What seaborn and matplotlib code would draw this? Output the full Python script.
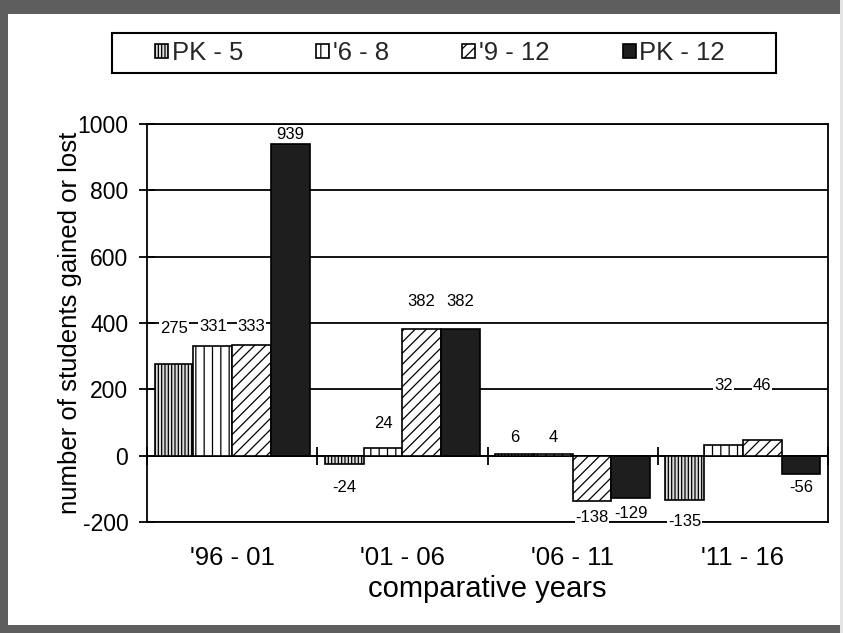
import matplotlib
matplotlib.use("Agg")
import matplotlib.pyplot as plt
from matplotlib.patches import Rectangle
import seaborn as sns
import pandas as pd

# enrollment change per grade band over each five-year span
periods = ["'96 - 01", "'01 - 06", "'06 - 11", "'11 - 16"]
grades = ["PK - 5", "'6 - 8", "'9 - 12", "PK - 12"]
pk5 = [275, -24, 6, -135]
g68 = [331, 24, 4, 32]
g912 = [333, 382, -138, 46]
pk12 = [939, 382, -129, -56]
yticks = [-200, 0, 200, 400, 600, 800, 1000]

# vertical placement of each value label (data units)
label_pos = {
    "PK - 5": [382, -95, 56, -197],
    "'6 - 8": [388, 98, 56, 213],
    "'9 - 12": [388, 464, -185, 213],
    "PK - 12": [968, 464, -173, -95],
}

# fill / hatch per grade band
looks = {
    "PK - 5": dict(face="#dcdcdc", hatch="|||||"),
    "'6 - 8": dict(face="white", hatch="||"),
    "'9 - 12": dict(face="white", hatch="///"),
    "PK - 12": dict(face="#1e1e1e", hatch=None),
}

series = {"PK - 5": pk5, "'6 - 8": g68, "'9 - 12": g912, "PK - 12": pk12}
df = pd.DataFrame(
    [(p, g, series[g][i]) for g in grades for i, p in enumerate(periods)],
    columns=["period", "grade", "value"],
)

sns.set_theme(style="white")
plt.rcParams["font.family"] = ["Liberation Sans", "DejaVu Sans"]
plt.rcParams["hatch.linewidth"] = 0.9
plt.rcParams["axes.unicode_minus"] = False

W, H = 843, 633
fig = plt.figure(figsize=(W / 100, H / 100), dpi=100)
fig.patch.set_facecolor("#5e5e5e")
# white sheet inside the grey frame
fig.patches.append(Rectangle((8 / W, 8 / H), 832 / W, 611 / H,
                             transform=fig.transFigure, facecolor="white",
                             edgecolor="none", zorder=-5))
fig.patches.append(Rectangle((840 / W, 0), 3 / W, 1,
                             transform=fig.transFigure, facecolor="#e4e4e4",
                             edgecolor="none", zorder=-5))
# legend box outline
fig.patches.append(Rectangle((112 / W, 1 - 73 / H), 664 / W, 40 / H,
                             transform=fig.transFigure, facecolor="none",
                             edgecolor="black", linewidth=1.5, zorder=3))

ax = fig.add_axes([147 / W, 1 - 522 / H, 681 / W, 398 / H])
ax.set_facecolor("white")

palette = {g: looks[g]["face"] for g in grades}
sns.barplot(data=df, x="period", y="value", hue="grade", order=periods,
            hue_order=grades, palette=palette, width=0.91, gap=0,
            saturation=1, edgecolor="black", linewidth=1.2, legend=False,
            ax=ax)

for g, cont in zip(grades, ax.containers):
    for bar in cont.patches:
        bar.set_facecolor(looks[g]["face"])
        bar.set_edgecolor("black")
        if looks[g]["hatch"]:
            bar.set_hatch(looks[g]["hatch"])
    for bar, val, ly in zip(cont.patches, series[g], label_pos[g]):
        cx = bar.get_x() + bar.get_width() / 2
        ax.text(cx, ly, f"{val}", ha="center", va="center", fontsize=12,
                color="black", zorder=6,
                bbox=dict(facecolor="white", edgecolor="none", pad=0.6))

ax.set_xlim(-0.5, 3.5)
ax.set_ylim(-200, 1000)
ax.set_yticks(yticks)
ax.yaxis.grid(True, color="black", linewidth=1.3)
ax.set_axisbelow(True)
for s in ax.spines.values():
    s.set_visible(True)
    s.set_color("black")
    s.set_linewidth(1.3)

ax.tick_params(axis="y", direction="inout", length=12, width=1.3,
               labelsize=16.5, pad=7.5, left=True, colors="black")
ax.tick_params(axis="x", length=0, labelsize=18.5, pad=17, colors="black")
ax.set_xlabel("comparative years", fontsize=21, labelpad=4, color="black")
ax.set_ylabel("number of students gained or lost", fontsize=18.5,
              color="black")
ax.yaxis.set_label_coords(-0.095, 0.5)

# category axis crossing at zero with tick marks between the groups
zero_axis = ax.secondary_xaxis(200 / 1200)
zero_axis.set_xticks([-0.5, 0.5, 1.5, 2.5, 3.5])
zero_axis.tick_params(direction="inout", length=13, width=1.3,
                      labelbottom=False, labeltop=False, colors="black")
for s in zero_axis.spines.values():
    s.set_linewidth(1.3)
    s.set_color("black")

handles = [cont.patches[0] for cont in ax.containers]
leg = fig.legend(handles, grades, loc="center left", ncol=4,
                 bbox_to_anchor=(155 / W, 1 - 53 / H),
                 fontsize=18.5, frameon=False, handlelength=0.5,
                 handleheight=0.5, handletextpad=0.15, borderaxespad=0,
                 borderpad=0, columnspacing=2.85)

fig.savefig("out.png", dpi=100, facecolor=fig.get_facecolor())
